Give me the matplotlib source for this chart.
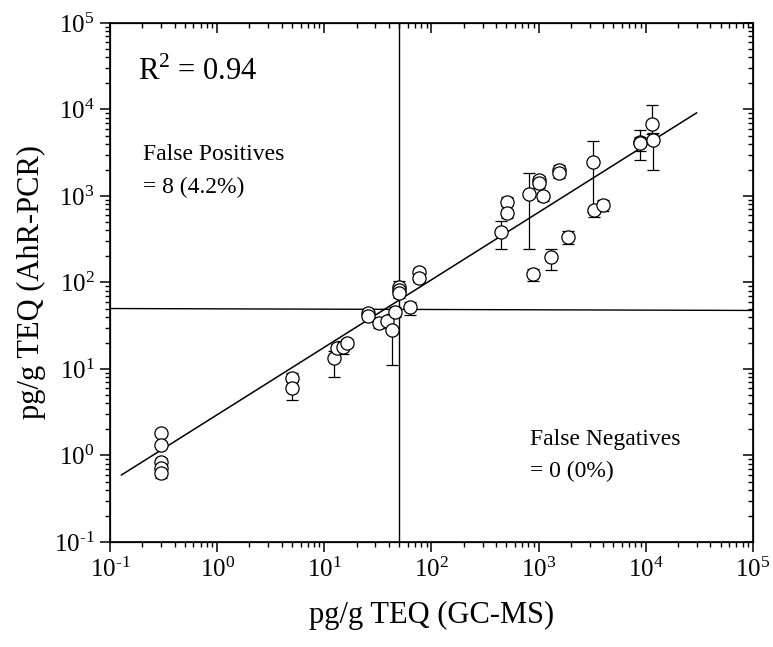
import matplotlib
matplotlib.use("Agg")
import matplotlib.pyplot as plt
import numpy as np

# data
gcms = [0.3, 0.3, 0.3, 0.3, 0.3,
        5.0, 5.0, 12.3, 13.2, 15.0, 16.4,
        25.7, 25.7, 32.6, 38.7, 43, 45.6,
        50, 50, 50, 63, 77, 77,
        445, 510, 510, 818, 880, 1015, 1015, 1090, 1302,
        1537, 1537, 1879, 3190, 3300, 4010,
        8810, 8810, 11480, 11700]
ahr = [1.82, 1.32, 0.84, 0.72, 0.63,
       7.8, 6.0, 13.3, 17.3, 18.1, 20.1,
       44, 41, 33.7, 36.1, 28.2, 45.9,
       89.5, 82, 75, 51.6, 133, 112,
       380, 859, 631, 1047, 124, 1531, 1402, 1000, 195,
       2000, 1830, 339, 2490, 689, 780,
       4250, 4060, 6750, 4440]
err_lo = [0, 0, 0.1, 0.1, 0.08,
          1.2, 1.6, 5.2, 2, 3, 2,
          4, 3, 4, 0, 17, 6,
          10, 8, 8, 10, 12, 12,
          136, 100, 80, 800, 20, 150, 150, 130, 55,
          220, 200, 60, 1830, 120, 110,
          900, 1460, 1500, 2440]
err_hi = [0, 0, 0.1, 0.1, 0.06,
          1.2, 1.0, 3, 2, 3, 2,
          6, 3, 0, 4, 15, 6,
          15, 8, 8, 8, 15, 12,
          137, 120, 80, 780, 20, 150, 150, 0, 50,
          300, 200, 50, 1830, 0, 120,
          1500, 800, 4400, 900]

# regression line (log-log)
fit_slope = 0.78
fit_intercept = 0.471
fit_x_range = [0.128, 2.98e4]
threshold = 50


def decade_label(v, pos):
    e = int(round(np.log10(v)))
    if e < 0:
        return r'$\mathdefault{10^{\text{-}%d}}$' % (-e)
    return r'$\mathdefault{10^{%d}}$' % e


plt.rcParams['font.family'] = ['Liberation Serif', 'DejaVu Serif']
plt.rcParams['mathtext.fontset'] = 'custom'
plt.rcParams['mathtext.rm'] = 'Liberation Serif'

fig = plt.figure(figsize=(7.73, 6.47), dpi=100)
ax = fig.add_axes([0.1423, 0.1623, 0.8317, 0.8022])
ax.set_xscale('log')
ax.set_yscale('log')
ax.set_xlim(0.1, 1e5)
ax.set_ylim(0.1, 1e5)

# cut-off lines
ax.axvline(threshold, color='black', lw=1.0, zorder=1)
ax.plot([0.1, 1e5], [threshold, 47.5], color='black', lw=1.0, zorder=1)

# regression
fx = np.array(fit_x_range)
ax.plot(fx, 10 ** (fit_intercept + fit_slope * np.log10(fx)), color='black', lw=1.1, zorder=2)

ax.errorbar(gcms, ahr, yerr=[err_lo, err_hi], fmt='o', ms=9.5, mfc='white', mec='black',
            mew=0.9, ecolor='black', elinewidth=0.9, capsize=4.5, capthick=0.9, zorder=3)

ax.text(0.0435, 0.89, r'R$^2$ = 0.94', transform=ax.transAxes, fontsize=22, va='baseline')
ax.text(0.0513, 0.736, 'False Positives', transform=ax.transAxes, fontsize=17, va='baseline')
ax.text(0.0513, 0.673, '= 8 (4.2%)', transform=ax.transAxes, fontsize=17, va='baseline')
ax.text(0.653, 0.187, 'False Negatives', transform=ax.transAxes, fontsize=17, va='baseline')
ax.text(0.653, 0.125, '= 0 (0%)', transform=ax.transAxes, fontsize=17, va='baseline')

ax.set_xlabel('pg/g TEQ (GC-MS)', fontsize=22, labelpad=14)
ax.set_ylabel('pg/g TEQ (AhR-PCR)', fontsize=22, labelpad=6)

for s in ax.spines.values():
    s.set_linewidth(1.2)
ax.tick_params(which='major', direction='out', length=7, width=1.1, labelsize=18, pad=4)
ax.tick_params(which='minor', direction='out', length=3.6, width=1.0)
ax.xaxis.set_major_locator(matplotlib.ticker.LogLocator(base=10, numticks=10))
ax.yaxis.set_major_locator(matplotlib.ticker.LogLocator(base=10, numticks=10))
ax.xaxis.set_major_formatter(matplotlib.ticker.FuncFormatter(decade_label))
ax.yaxis.set_major_formatter(matplotlib.ticker.FuncFormatter(decade_label))
ax.xaxis.set_minor_locator(matplotlib.ticker.LogLocator(base=10, subs=np.arange(2, 10), numticks=20))
ax.yaxis.set_minor_locator(matplotlib.ticker.LogLocator(base=10, subs=np.arange(2, 10), numticks=20))
ax.xaxis.set_minor_formatter(matplotlib.ticker.NullFormatter())
ax.yaxis.set_minor_formatter(matplotlib.ticker.NullFormatter())

# top / right ticks point inward (Origin style)
axt = ax.twiny()
axt.set_xscale('log')
axt.set_xlim(ax.get_xlim())
axt.tick_params(which='both', direction='in', labeltop=False)
axr = ax.twinx()
axr.set_yscale('log')
axr.set_ylim(ax.get_ylim())
axr.tick_params(which='both', direction='in', labelright=False)
for a in (axt, axr):
    a.tick_params(which='major', length=7, width=1.1)
    a.tick_params(which='minor', length=3.6, width=1.0)
axt.xaxis.set_minor_locator(matplotlib.ticker.LogLocator(base=10, subs=np.arange(2, 10), numticks=20))
axr.yaxis.set_minor_locator(matplotlib.ticker.LogLocator(base=10, subs=np.arange(2, 10), numticks=20))

fig.savefig('out.png', dpi=100)
